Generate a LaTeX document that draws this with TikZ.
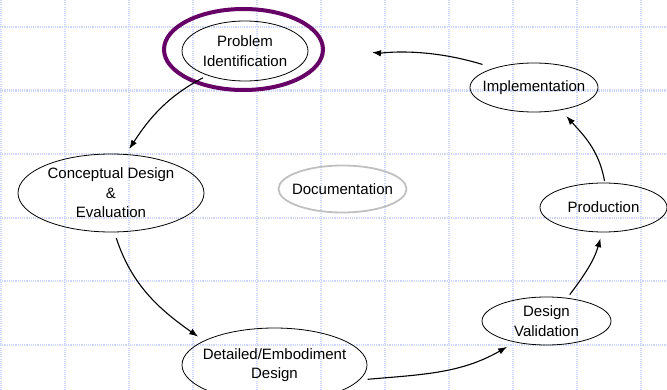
\documentclass[tikz,border=0pt]{standalone}
\usepackage{fontspec}
\setmainfont{Liberation Sans}
\usetikzlibrary{arrows.meta, shapes.geometric}
\definecolor{gridblue}{RGB}{206,215,250}
\definecolor{ringpurple}{RGB}{102,0,102}
\definecolor{docgray}{RGB}{192,192,192}

\begin{document}
\begin{tikzpicture}[
    x=1pt, y=1pt,
    every node/.style={ellipse, draw, line width=0.8pt, align=center, inner sep=0pt, font=\fontsize{15}{19.5}\selectfont},
    gridline/.style={gridblue, line width=2.2pt, dash pattern=on 1.1pt off 1.1pt},
    flow/.style={line width=1.1pt, -{Latex[length=9pt, width=6.5pt]}}
]
\useasboundingbox (0,0) rectangle (667,-390);
% Background grid
\foreach \gx in {1,65,...,642} \draw[gridline] (\gx,0) -- (\gx,-390);
\foreach \gy in {27,90.6,...,346} \draw[gridline] (0,-\gy) -- (667,-\gy);

% Define shapes
\node (prob_ident) [minimum width=126, minimum height=60] at (245,-51) {Problem\\ Identification};
\node (concept_design) [minimum width=186, minimum height=78] at (111,-193) {Conceptual Design\\ \&\\ Evaluation};
\node (detail_design) [inner xsep=-7pt, minimum width=185, minimum height=74] at (274.5,-365) {Detailed/Embodiment\\ Design};
\node (doc) [draw=docgray, line width=1.8pt, inner xsep=-6pt, minimum width=128, minimum height=47] at (342.5,-189) {Documentation};
\node (design_valid) [minimum width=129, minimum height=48] at (546.5,-321) {Design\\ Validation};
\node (production) [minimum width=127, minimum height=49] at (603.5,-207.5) {Production};
\node (implement) [inner xsep=-8.5pt, minimum width=128, minimum height=49] at (534,-87.5) {Implementation};
\draw[ringpurple, line width=4pt] ([xshift=-1.5pt, yshift=1.5pt]prob_ident.center) ellipse [x radius=79.5, y radius=40.5];

% Draw arrows
\draw[flow, shorten <=5pt, shorten >=6pt] (prob_ident.213) to[out=208, in=57] (concept_design.69);
\draw[flow, shorten <=6pt, shorten >=7pt] (concept_design.-85) to[out=-72, in=145] (detail_design.161);
\draw[flow, shorten <=8pt, shorten >=9pt] (detail_design.-10) to[out=5, in=210] (design_valid.214);
\draw[flow, shorten <=4pt, shorten >=6pt] (design_valid.48) to[out=53, in=254] (production.267);
\draw[flow, shorten <=1.5pt, shorten >=8pt] (production.87) to[out=100, in=312] (implement.-40);
\draw[flow, shorten <=12pt, shorten >=65pt] (implement.154) to[out=163, in=354] (prob_ident.5);
\end{tikzpicture}
\end{document}
